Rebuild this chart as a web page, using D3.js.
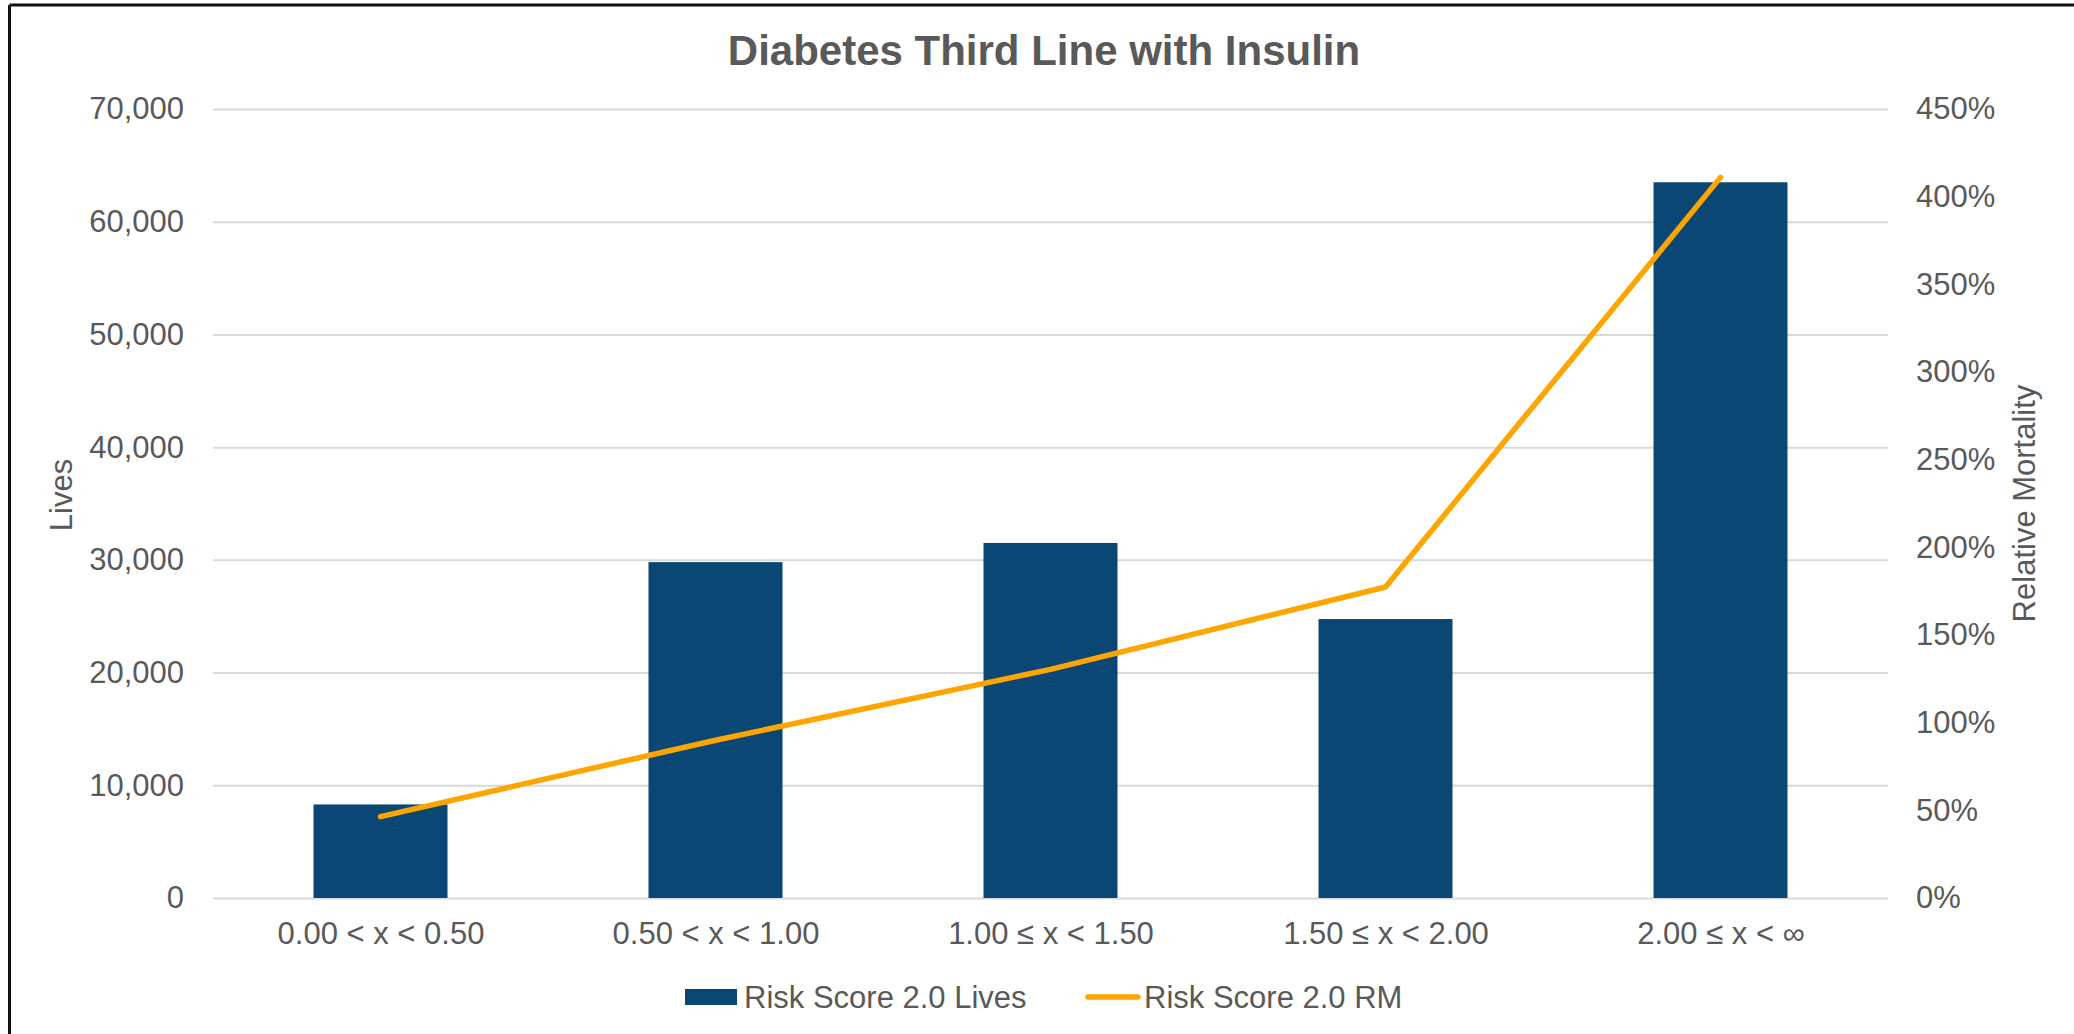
<!DOCTYPE html>
<html>
<head>
<meta charset="utf-8">
<script src="https://cdn.jsdelivr.net/npm/d3@7"></script>
<style>
  html, body { margin: 0; padding: 0; background: #fff; }
  svg { display: block; }
  text { font-family: "Liberation Sans", Arial, sans-serif; fill: #595959; }
</style>
</head>
<body>
<svg id="chart" width="2074" height="1034"></svg>
<script>
// Risk score buckets and the two series plotted against them
const categories = ["0.00 < x < 0.50", "0.50 < x < 1.00", "1.00 \u2264 x < 1.50", "1.50 \u2264 x < 2.00", "2.00 \u2264 x < \u221e"];
const livesValues = [8300, 29800, 31500, 24750, 63500];
const rmValues = [0.464, 0.90, 1.304, 1.774, 4.11];
const livesTicks = [0, 10000, 20000, 30000, 40000, 50000, 60000, 70000];
const rmTicks = [0, 0.5, 1, 1.5, 2, 2.5, 3, 3.5, 4, 4.5];
const seriesNames = ["Risk Score 2.0 Lives", "Risk Score 2.0 RM"];
const chartTitle = "Diabetes Third Line with Insulin";
const leftTitle = "Lives";
const rightTitle = "Relative Mortality";

const W = 2074, H = 1034;
const plot = { left: 213, right: 1888, top: 109, bottom: 898 };
const barColor = "#0B4775";
const lineColor = "#FFA500";
const gridColor = "#D9D9D9";

const svg = d3.select("#chart");

// outer frame (top and left edges)
svg.append("line").attr("x1", 9.5).attr("x2", W).attr("y1", 5).attr("y2", 5)
  .attr("stroke", "#111").attr("stroke-width", 3);
svg.append("line").attr("x1", 9.5).attr("x2", 9.5).attr("y1", 5).attr("y2", H)
  .attr("stroke", "#111").attr("stroke-width", 3);

const x = d3.scaleBand().domain(categories).range([plot.left, plot.right])
  .paddingInner(0.6).paddingOuter(0.3);
const xCenter = d3.scalePoint().domain(categories).range([plot.left, plot.right]).padding(0.5);
const yL = d3.scaleLinear().domain([0, 70000]).range([plot.bottom, plot.top]);
const yR = d3.scaleLinear().domain([0, 4.5]).range([plot.bottom, plot.top]);

// gridlines
const grid = svg.append("g")
  .attr("transform", `translate(${plot.left},0)`)
  .call(d3.axisLeft(yL).tickValues(livesTicks).tickSize(-(plot.right - plot.left)).tickFormat(""));
grid.select(".domain").remove();
grid.selectAll("line").attr("stroke", gridColor).attr("stroke-width", 2);

// left axis labels
const axL = svg.append("g")
  .attr("transform", `translate(${plot.left - 29},0)`)
  .call(d3.axisLeft(yL).tickValues(livesTicks).tickSize(0).tickPadding(0).tickFormat(d3.format(",")));
axL.select(".domain").remove();
axL.selectAll("text").style("font-size", "31px").attr("fill", "#595959")
  .style("font-family", "'Liberation Sans', Arial, sans-serif");

// right axis labels
const axR = svg.append("g")
  .attr("transform", `translate(${plot.right + 28},0)`)
  .call(d3.axisRight(yR).tickValues(rmTicks).tickSize(0).tickPadding(0).tickFormat(d3.format(".0%")));
axR.select(".domain").remove();
axR.selectAll("text").style("font-size", "31px").attr("fill", "#595959")
  .style("font-family", "'Liberation Sans', Arial, sans-serif");

// category axis labels
const axX = svg.append("g")
  .attr("transform", `translate(0,${plot.bottom})`)
  .call(d3.axisBottom(xCenter).tickSize(0).tickPadding(24));
axX.select(".domain").remove();
axX.selectAll("text").style("font-size", "31px").attr("fill", "#595959")
  .style("font-family", "'Liberation Sans', Arial, sans-serif");

// bars
svg.append("g").selectAll("rect").data(livesValues).join("rect")
  .attr("x", (d, i) => x(categories[i]))
  .attr("width", x.bandwidth())
  .attr("y", d => yL(d))
  .attr("height", d => yL(0) - yL(d))
  .attr("fill", barColor);

// relative mortality line
const line = d3.line().x((d, i) => xCenter(categories[i])).y(d => yR(d));
svg.append("path").datum(rmValues)
  .attr("d", line)
  .attr("fill", "none")
  .attr("stroke", lineColor)
  .attr("stroke-width", 5.5)
  .attr("stroke-linecap", "round")
  .attr("stroke-linejoin", "round");

// titles
svg.append("text").attr("x", 1044).attr("y", 65).attr("text-anchor", "middle")
  .style("font-size", "42px").style("font-weight", "bold").text(chartTitle);

svg.append("text").attr("transform", `translate(72,495) rotate(-90)`)
  .attr("text-anchor", "middle").style("font-size", "31px").text(leftTitle);

svg.append("text").attr("transform", `translate(2035,${(plot.top + plot.bottom) / 2}) rotate(-90)`)
  .attr("text-anchor", "middle").style("font-size", "31px").text(rightTitle);

// legend
const lg = svg.append("g");
lg.append("rect").attr("x", 685).attr("y", 989).attr("width", 52).attr("height", 16).attr("fill", barColor);
lg.append("text").attr("x", 744).attr("y", 1008).style("font-size", "31px").text(seriesNames[0]);
lg.append("line").attr("x1", 1088).attr("x2", 1138).attr("y1", 997).attr("y2", 997)
  .attr("stroke", lineColor).attr("stroke-width", 5.5).attr("stroke-linecap", "round");
lg.append("text").attr("x", 1144).attr("y", 1008).style("font-size", "31px").text(seriesNames[1]);
</script>
</body>
</html>
